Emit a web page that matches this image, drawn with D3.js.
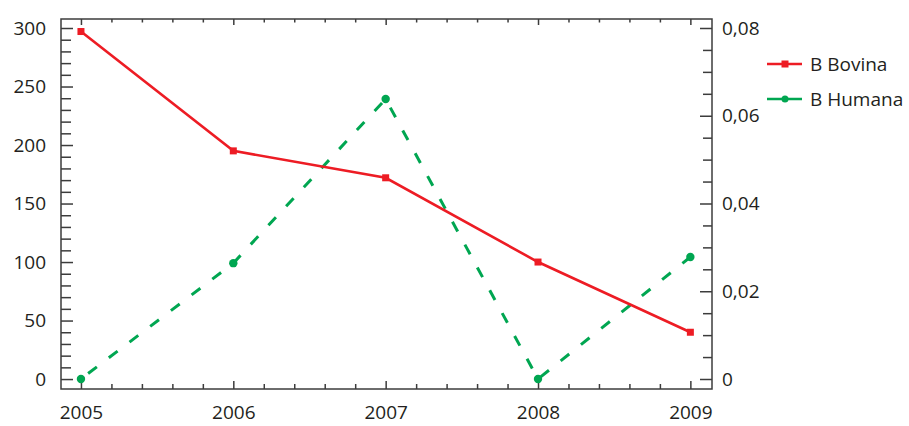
<html>
<head>
  <title>B Bovina / B Humana</title>
  <script src="https://cdn.jsdelivr.net/npm/d3@7/dist/d3.min.js"></script>
  <style>
  body {
    margin: 0;
    background: #fff;
    font-family: "Open Sans";
  }
  svg {
    display: block;
  }
  </style>
</head>

<body>
<svg id="chart"></svg>
</body>

<script>
const WIDTH = 909
const HEIGHT = 426
const PLOT = {
  left: 61,
  top: 19,
  right: 712,
  bottom: 389
}

// data
const years = [2005, 2006, 2007, 2008, 2009]
const bovina = [297, 195, 172, 100, 40]
const humana = [0, 0.0264, 0.0638, 0, 0.0278]
const leftTicks = [0, 50, 100, 150, 200, 250, 300]
const rightTicks = [0, 0.02, 0.04, 0.06, 0.08]
const seriesNames = ["B Bovina", "B Humana"]

const RED = "#ed1c24"
const GREEN = "#00a651"
const AXIS = "#3c3c3c"
const TEXT = "#231f20"

let xScale = d3.scaleLinear()
  .domain([2004.869, 2009.142])
  .range([PLOT.left, PLOT.right])

let yLeft = d3.scaleLinear()
  .domain([-8.5, 307.7])
  .range([PLOT.bottom, PLOT.top])

let yRight = d3.scaleLinear()
  .domain([-0.00228, 0.08205])
  .range([PLOT.bottom, PLOT.top])

function commaFormat(v) {
  if (v === 0) return "0"
  return d3.format(".2f")(v).replace(".", ",")
}

function styleAxis(g) {
  g.select(".domain").remove()
  g.selectAll("line").attr("stroke", AXIS).attr("stroke-width", 1.5)
  g.selectAll("text")
    .attr("fill", TEXT)
    .style("font-family", "Open Sans")
    .style("font-size", "19px")
}

function drawAxes(svg) {
  // minor ticks
  let leftMinor = d3.range(0, 301, 10).filter(v => v % 50 != 0)
  svg.append("g")
    .attr("transform", `translate(${PLOT.left},0)`)
    .call(d3.axisLeft(yLeft).tickValues(leftMinor).tickSize(-10).tickFormat(""))
    .call(styleAxis)

  svg.append("g")
    .attr("transform", `translate(${PLOT.left},0)`)
    .call(d3.axisLeft(yLeft).tickValues(leftTicks).tickSize(-12).tickPadding(15))
    .call(styleAxis)

  let rightMinor = d3.range(0, 17).map(i => i * 0.005).filter(v => Math.round(v * 1000) % 20 != 0)
  svg.append("g")
    .attr("transform", `translate(${PLOT.right},0)`)
    .call(d3.axisRight(yRight).tickValues(rightMinor).tickSize(-9).tickFormat(""))
    .call(styleAxis)

  svg.append("g")
    .attr("transform", `translate(${PLOT.right},0)`)
    .call(d3.axisRight(yRight).tickValues(rightTicks).tickSize(-12).tickPadding(10).tickFormat(commaFormat))
    .call(styleAxis)

  let xMinor = d3.range(0, 21).map(i => 2005 + i * 0.2).filter((v, i) => i % 5 != 0)
  svg.append("g")
    .attr("transform", `translate(0,${PLOT.bottom})`)
    .call(d3.axisBottom(xScale).tickValues(xMinor).tickSize(-5).tickFormat(""))
    .call(styleAxis)

  svg.append("g")
    .attr("transform", `translate(0,${PLOT.bottom})`)
    .call(d3.axisBottom(xScale).tickValues(years).tickSize(-8).tickPadding(17).tickFormat(d3.format("d")))
    .call(styleAxis)

  // mirrored ticks on top edge
  svg.append("g")
    .attr("transform", `translate(0,${PLOT.top})`)
    .call(d3.axisTop(xScale).tickValues(xMinor).tickSize(-3.5).tickFormat(""))
    .call(styleAxis)

  svg.append("g")
    .attr("transform", `translate(0,${PLOT.top})`)
    .call(d3.axisTop(xScale).tickValues(years).tickSize(-6).tickFormat(""))
    .call(styleAxis)

  svg.append("rect")
    .attr("x", PLOT.left)
    .attr("y", PLOT.top)
    .attr("width", PLOT.right - PLOT.left)
    .attr("height", PLOT.bottom - PLOT.top)
    .attr("fill", "none")
    .attr("stroke", AXIS)
    .attr("stroke-width", 1.5)
}

function drawChart(svg) {
  let bovinaData = years.map((y, i) => ({year: y, value: bovina[i]}))
  let humanaData = years.map((y, i) => ({year: y, value: humana[i]}))

  let bovinaLine = d3.line()
    .x(d => xScale(d.year))
    .y(d => yLeft(d.value))

  let humanaLine = d3.line()
    .x(d => xScale(d.year))
    .y(d => yRight(d.value))

  svg.append("path")
    .datum(humanaData)
    .attr("d", humanaLine)
    .attr("fill", "none")
    .attr("stroke", GREEN)
    .attr("stroke-width", 3)
    .attr("stroke-dasharray", "11,15")
    .attr("stroke-dashoffset", -9)

  svg.append("g")
    .selectAll("circle")
    .data(humanaData)
    .enter()
    .append("circle")
    .attr("cx", d => xScale(d.year))
    .attr("cy", d => yRight(d.value))
    .attr("r", 4.2)
    .attr("fill", GREEN)

  svg.append("path")
    .datum(bovinaData)
    .attr("d", bovinaLine)
    .attr("fill", "none")
    .attr("stroke", RED)
    .attr("stroke-width", 2.6)

  svg.append("g")
    .selectAll("rect")
    .data(bovinaData)
    .enter()
    .append("rect")
    .attr("x", d => xScale(d.year) - 3.5)
    .attr("y", d => yLeft(d.value) - 3.5)
    .attr("width", 7)
    .attr("height", 7)
    .attr("fill", RED)
}

function drawLegend(svg) {
  let colors = [RED, GREEN]
  let legend = svg.append("g")
    .selectAll("g")
    .data(seriesNames)
    .enter()
    .append("g")
    .attr("transform", (d, i) => `translate(767,${64 + i * 35})`)

  legend.append("line")
    .attr("x1", 0)
    .attr("x2", 35)
    .attr("stroke", (d, i) => colors[i])
    .attr("stroke-width", 2.6)

  legend.each(function(d, i) {
    let g = d3.select(this)
    if (i == 0) {
      g.append("rect").attr("x", 14.5).attr("y", -3.5).attr("width", 7).attr("height", 7).attr("fill", colors[i])
    } else {
      g.append("circle").attr("cx", 18).attr("cy", 0).attr("r", 3.5).attr("fill", colors[i])
    }
  })

  legend.append("text")
    .attr("x", 43)
    .attr("y", 0)
    .attr("dy", "0.35em")
    .attr("fill", TEXT)
    .style("font-family", "Open Sans")
    .style("font-size", "19px")
    .text(d => d)
}

function main() {
  let svg = d3.select("#chart")
    .attr("width", WIDTH)
    .attr("height", HEIGHT)
  drawAxes(svg)
  drawChart(svg)
  drawLegend(svg)
}

main()
</script>

</html>
